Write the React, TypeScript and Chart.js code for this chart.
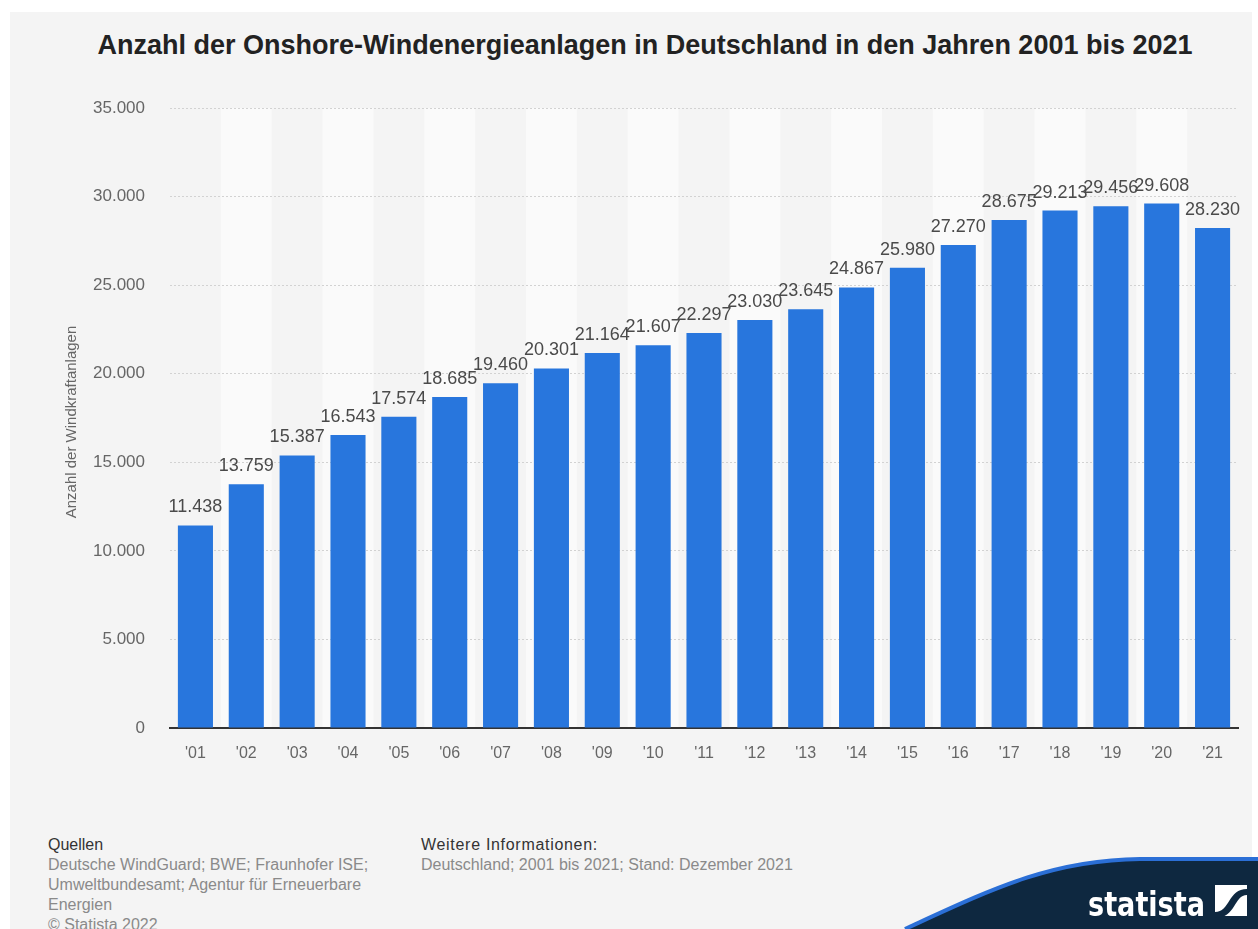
import React, { useEffect, useRef } from "react";
import { Chart, registerables } from "chart.js";

Chart.register(...registerables);

const categories = ["'01", "'02", "'03", "'04", "'05", "'06", "'07", "'08", "'09", "'10", "'11", "'12", "'13", "'14", "'15", "'16", "'17", "'18", "'19", "'20", "'21"];
const values = [11438, 13759, 15387, 16543, 17574, 18685, 19460, 20301, 21164, 21607, 22297, 23030, 23645, 24867, 25980, 27270, 28675, 29213, 29456, 29608, 28230];
const yTicks = [0, 5000, 10000, 15000, 20000, 25000, 30000, 35000];

const TITLE = "Anzahl der Onshore-Windenergieanlagen in Deutschland in den Jahren 2001 bis 2021";
const Y_TITLE = "Anzahl der Windkraftanlagen";
const SOURCES = ["Deutsche WindGuard; BWE; Fraunhofer ISE;", "Umweltbundesamt; Agentur für Erneuerbare", "Energien", "© Statista 2022"];
const INFO = "Deutschland; 2001 bis 2021; Stand: Dezember 2021";

const fmt = (n: number) => String(n).replace(/\B(?=(\d{3})+(?!\d))/g, ".");
const FONT = "Arial, 'Liberation Sans', Helvetica, sans-serif";

const decorPlugin = {
  id: "decor",
  beforeDraw(chart: any) {
    const { ctx, chartArea, scales } = chart;
    const x = scales.x;
    ctx.save();
    ctx.fillStyle = "#fafafa";
    const n = categories.length;
    const w = (chartArea.right - chartArea.left) / n;
    for (let i = 1; i < n; i += 2) {
      const cx = x.getPixelForValue(i);
      ctx.fillRect(cx - w / 2, chartArea.top, w, chartArea.bottom - chartArea.top);
    }
    ctx.restore();
  },
  afterDraw(chart: any) {
    const { ctx, chartArea } = chart;
    ctx.save();
    ctx.translate(72, (chartArea.top + chartArea.bottom) / 2 + 4);
    ctx.rotate(-Math.PI / 2);
    ctx.fillStyle = "#666";
    ctx.font = `15px ${FONT}`;
    ctx.textAlign = "center";
    ctx.textBaseline = "middle";
    ctx.fillText(Y_TITLE, 0, 0);
    ctx.restore();
  },
  afterDatasetsDraw(chart: any) {
    const { ctx } = chart;
    const meta = chart.getDatasetMeta(0);
    ctx.save();
    ctx.fillStyle = "#4a4a4a";
    ctx.font = `18px ${FONT}`;
    ctx.textAlign = "center";
    ctx.textBaseline = "alphabetic";
    meta.data.forEach((bar: any, i: number) => {
      ctx.fillText(fmt(values[i]), bar.x, bar.y - 13);
    });
    ctx.restore();
  },
};

export default function App() {
  const ref = useRef<HTMLCanvasElement | null>(null);
  useEffect(() => {
    document.body.style.margin = "0";
    document.body.style.background = "#ffffff";
    const chart = new Chart(ref.current as HTMLCanvasElement, {
      type: "bar",
      data: {
        labels: categories,
        datasets: [
          {
            data: values,
            backgroundColor: "#2876dd",
            categoryPercentage: 1,
            barPercentage: 0.69,
          },
        ],
      },
      options: {
        animation: false,
        responsive: false,
        devicePixelRatio: 1,
        layout: { padding: { top: 108, left: 0, right: 20, bottom: 32 } },
        plugins: { legend: { display: false }, tooltip: { enabled: false }, title: { display: false } },
        scales: {
          x: {
            grid: { display: false, drawTicks: false },
            border: { display: true, color: "#333", width: 2 },
            ticks: { color: "#666", font: { size: 16, family: FONT }, padding: 16, maxRotation: 0 },
            afterFit: (s: any) => { s.height = 40; },
          },
          y: {
            min: 0,
            max: 35000,
            afterBuildTicks: (s: any) => { s.ticks = yTicks.map((v) => ({ value: v })); },
            grid: { color: "#d2d2d2", drawTicks: false, lineWidth: 1 },
            border: { display: false, dash: [2, 2] },
            ticks: { color: "#666", font: { size: 17, family: FONT }, padding: 25, callback: (v: any) => fmt(Number(v)) },
            afterFit: (s: any) => { s.width = 170; },
          },
        },
      },
      plugins: [decorPlugin],
    } as any);
    return () => chart.destroy();
  }, []);

  return (
    <div style={{ position: "relative", width: 1258, height: 929, background: "#fff", overflow: "hidden", fontFamily: FONT }}>
      <div style={{ position: "absolute", left: 10, top: 12, width: 1242, height: 917, background: "#f4f4f4" }} />
      <div style={{ position: "absolute", left: 0, top: 29, width: 1290, textAlign: "center", fontSize: 27, lineHeight: "32px", fontWeight: "bold", color: "#222" }}>{TITLE}</div>
      <canvas ref={ref} width={1258} height={800} style={{ position: "absolute", left: 0, top: 0 }} />
      <div style={{ position: "absolute", left: 48, top: 835, fontSize: 16, lineHeight: "20px", color: "#333" }}>Quellen</div>
      {SOURCES.map((s, i) => (
        <div key={i} style={{ position: "absolute", left: 48, top: 855 + i * 20, fontSize: 16, lineHeight: "20px", color: "#8a8a8a", whiteSpace: "nowrap" }}>{s}</div>
      ))}
      <div style={{ position: "absolute", left: 421, top: 835, fontSize: 16, lineHeight: "20px", letterSpacing: "0.7px", color: "#333" }}>Weitere Informationen:</div>
      <div style={{ position: "absolute", left: 421, top: 855, fontSize: 16, lineHeight: "20px", color: "#8a8a8a", whiteSpace: "nowrap" }}>{INFO}</div>
      <svg width={1258} height={929} style={{ position: "absolute", left: 0, top: 0, pointerEvents: "none" }}>
        <path d="M 905 929 C 990 890, 1050 860, 1140 859 L 1258 859 L 1258 929 Z" fill="#0e2840" />
        <path d="M 905 929 C 990 890, 1050 860, 1140 859 L 1258 859" fill="none" stroke="#2b6fd6" strokeWidth={4} />
        <text x={1088} y={916} fill="#fff" fontSize={33} fontWeight="bold" textLength={117} lengthAdjust="spacingAndGlyphs" fontFamily="'Liberation Sans Narrow', 'DejaVu Sans Condensed', Arial, sans-serif">statista</text>
        <rect x={1215} y={885} width={32} height={31} fill="#fff" />
        <path d="M 1215 912 C 1230 912, 1228 889, 1247 889 L 1247 895 C 1234 895, 1236 918, 1215 918 Z" fill="#0e2840" />
      </svg>
    </div>
  );
}
